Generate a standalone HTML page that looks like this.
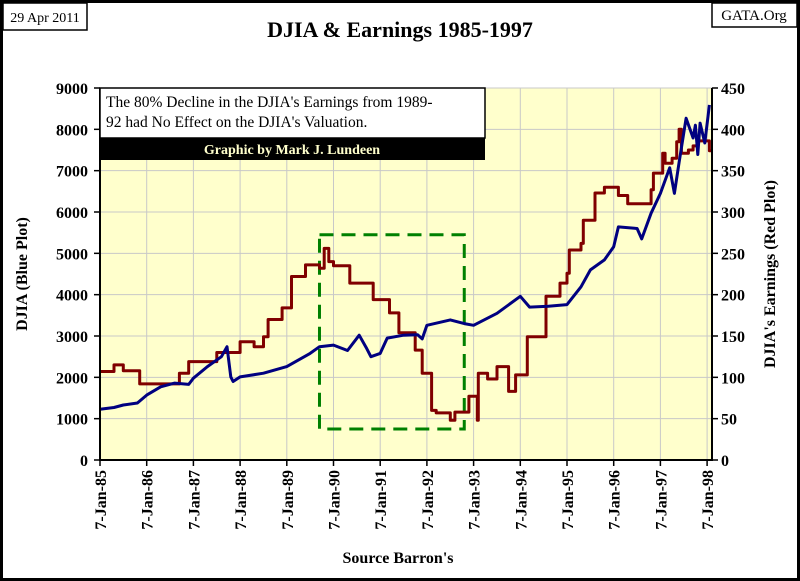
<!DOCTYPE html>
<html><head><meta charset="utf-8"><style>
html,body{margin:0;padding:0;background:#fff}
#wrap{position:relative;width:800px;height:581px;overflow:hidden}
svg text{font-family:"Liberation Serif",serif}
</style></head><body>
<div id="wrap">
<svg id="chart" width="800" height="581" xmlns="http://www.w3.org/2000/svg">
<rect x="1.5" y="1.5" width="797" height="578" fill="#fff" stroke="#000" stroke-width="3"/>
<rect x="3" y="3" width="84" height="27" fill="#fff" stroke="#000" stroke-width="1.5"/>
<text x="45" y="22" font-size="14" text-anchor="middle">29 Apr 2011</text>
<rect x="712" y="3" width="85" height="24" fill="#fff" stroke="#000" stroke-width="1.5"/>
<text x="754" y="20" font-size="15" text-anchor="middle">GATA.Org</text>
<text x="400" y="37" font-size="22" font-weight="bold" text-anchor="middle">DJIA &amp; Earnings 1985-1997</text>
<rect x="100" y="88" width="612" height="372" fill="#ffffcc"/>
<g id="grid"></g>
<g id="box"></g>
<g id="series"></g>
<g id="axes"></g>
<rect x="100" y="88" width="385" height="50" fill="#fff" stroke="#000" stroke-width="1.5"/>
<text x="106" y="107" font-size="15.5">The 80% Decline in the DJIA's Earnings from 1989-</text>
<text x="106" y="127" font-size="15.5">92 had No Effect on the DJIA's Valuation.</text>
<rect x="100" y="138" width="385" height="22" fill="#000"/>
<text x="292" y="154" font-size="14" font-weight="bold" fill="#ffffcc" text-anchor="middle">Graphic by Mark J. Lundeen</text>
<text transform="translate(27,274) rotate(-90)" font-size="16" font-weight="bold" text-anchor="middle">DJIA (Blue Plot)</text>
<text transform="translate(775,274) rotate(-90)" font-size="16" font-weight="bold" text-anchor="middle">DJIA's Earnings (Red Plot)</text>
<text x="398" y="563" font-size="16" font-weight="bold" text-anchor="middle">Source Barron's</text>
</svg>
</div>
<script>
const djiaDates=[1985.0,1985.3,1985.5,1985.8,1986.0,1986.3,1986.6,1986.9,1987.0,1987.3,1987.6,1987.72,1987.8,1987.85,1988.0,1988.5,1989.0,1989.5,1989.7,1990.0,1990.3,1990.55,1990.7,1990.8,1991.0,1991.15,1991.5,1991.8,1991.9,1992.0,1992.5,1992.8,1993.0,1993.5,1994.0,1994.2,1994.6,1995.0,1995.3,1995.5,1995.8,1996.0,1996.1,1996.5,1996.6,1996.8,1997.0,1997.2,1997.3,1997.4,1997.55,1997.7,1997.75,1997.8,1997.85,1997.95,1998.05];
const djiaValues=[1230,1270,1330,1380,1570,1770,1860,1830,1980,2260,2500,2740,2010,1900,2010,2100,2260,2580,2740,2780,2650,3020,2720,2500,2580,2950,3020,3030,2930,3260,3390,3300,3260,3550,3960,3700,3720,3760,4190,4600,4840,5160,5640,5600,5350,5970,6450,7070,6450,7200,8270,7790,8100,7390,8150,7670,8590];
const earnDates=[1985.0,1985.3,1985.5,1985.85,1986.7,1986.9,1987.5,1988.0,1988.3,1988.5,1988.6,1988.9,1989.1,1989.4,1989.7,1989.8,1989.9,1990.0,1990.35,1990.85,1991.2,1991.4,1991.75,1991.9,1992.1,1992.2,1992.5,1992.6,1992.9,1993.08,1993.1,1993.3,1993.5,1993.75,1993.9,1994.15,1994.55,1994.85,1995.0,1995.05,1995.3,1995.35,1995.6,1995.8,1996.1,1996.3,1996.8,1996.85,1997.05,1997.1,1997.25,1997.35,1997.4,1997.45,1997.6,1997.7,1997.8,1998.05];
const earnValues=[107,115,108,92,105,119,130,143,137,149,170,184,222,236,232,256,240,235,214,194,178,154,133,105,60,57,48,58,77,48,105,98,113,83,103,149,198,214,226,254,262,290,323,330,320,310,327,347,371,359,365,385,400,371,375,380,386,374];
const leftTicks=[0,1000,2000,3000,4000,5000,6000,7000,8000,9000];
const rightTicks=[0,50,100,150,200,250,300,350,400,450];
const yearLabels=["7-Jan-85","7-Jan-86","7-Jan-87","7-Jan-88","7-Jan-89","7-Jan-90","7-Jan-91","7-Jan-92","7-Jan-93","7-Jan-94","7-Jan-95","7-Jan-96","7-Jan-97","7-Jan-98"];
const boxYears=[1989.7,1992.8]; const boxLevels=[5450,750];

const NS="http://www.w3.org/2000/svg";
const X0=100,X1=712,Y0=460,Y1=88;
const xs=t=>X0+(t-1985)*46.7;
const yl=v=>Y0-(v/9000)*(Y0-Y1);
const yr=v=>Y0-(v/450)*(Y0-Y1);
function mk(tag,attrs,parent){const e=document.createElementNS(NS,tag);for(const k in attrs)e.setAttribute(k,attrs[k]);parent.appendChild(e);return e;}
const grid=document.getElementById('grid'),axes=document.getElementById('axes'),series=document.getElementById('series'),box=document.getElementById('box');
leftTicks.forEach((v,i)=>{
  const y=yl(v);
  if(i>0){const g=mk('line',{x1:X0,x2:X1,y1:y,y2:y,stroke:'#c8c8c8','stroke-width':1},grid);
  
  }
  const t=mk('line',{x1:X0-6,x2:X0,y1:y,y2:y,stroke:'#000','stroke-width':1.5},axes);
  
  
  const l=mk('text',{x:X0-12,y:y+6,'font-size':16,'font-weight':'bold','text-anchor':'end'},axes);
  l.textContent=v;
  
  
});
rightTicks.forEach(v=>{
  const y=yr(v);
  const t=mk('line',{x1:X1,x2:X1+6,y1:y,y2:y,stroke:'#000','stroke-width':1.5},axes);
  
  
  const l=mk('text',{x:X1+9,y:y+6,'font-size':16,'font-weight':'bold'},axes);
  l.textContent=v;
  
  
});
yearLabels.forEach((s,i)=>{
  const x=xs(1985+i);
  if(i>0){const g=mk('line',{x1:x,x2:x,y1:Y1,y2:Y0,stroke:'#c8c8c8','stroke-width':1},grid);
  
  }
  const t=mk('line',{x1:x,x2:x,y1:Y0,y2:Y0+6,stroke:'#000','stroke-width':1.5},axes);
  
  
  const l=mk('text',{transform:`translate(${x+6},${Y0+10}) rotate(-90)`,'font-size':16,'font-weight':'bold','text-anchor':'end'},axes);
  l.textContent=s;
  
  
});
const ax=mk('path',{d:`M${X0},${Y1}V${Y0}H${X1}V${Y1}`,fill:'none',stroke:'#000','stroke-width':2},axes);


const bx=mk('rect',{x:xs(boxYears[0]),y:yl(boxLevels[0]),width:xs(boxYears[1])-xs(boxYears[0]),height:yl(boxLevels[1])-yl(boxLevels[0]),fill:'none',stroke:'#008000','stroke-width':3,'stroke-dasharray':'14,8'},box);


let rd='';
earnDates.forEach((d,i)=>{
  const x=xs(d).toFixed(1),y=yr(earnValues[i]).toFixed(1);
  rd+= i===0?`M${x},${y}`:`H${x}V${y}`;
});
rd+=`H${X1}`;
const rp=mk('path',{d:rd,fill:'none',stroke:'#800000','stroke-width':3,'stroke-linejoin':'round'},series);


const bp=mk('polyline',{points:djiaDates.map((d,i)=>xs(d).toFixed(1)+','+yl(djiaValues[i]).toFixed(1)).join(' '),fill:'none',stroke:'#000080','stroke-width':3,'stroke-linejoin':'round'},series);


</script>
</body></html>
